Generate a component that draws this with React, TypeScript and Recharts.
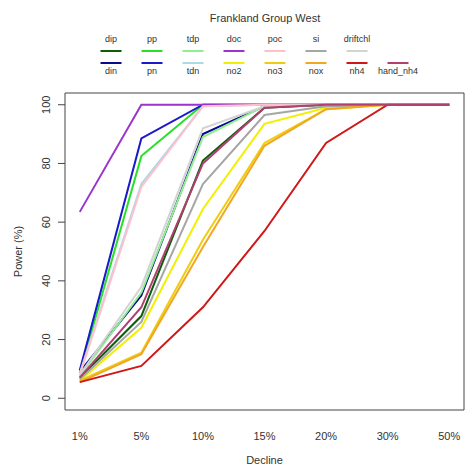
import React from 'react';
import {
  LineChart,
  Line,
  XAxis,
  YAxis,
  ReferenceArea,
} from 'recharts';

// decline levels along the x axis
const declines = ['1%', '5%', '10%', '15%', '20%', '30%', '50%'];
const powerTicks = [0, 20, 40, 60, 80, 100];

// power (%) for each variable at each decline level
const dip = [7, 28, 81, 99, 100, 100, 100];
const din = [9, 35, 90, 99.5, 100, 100, 100];
const pp = [8.5, 82.5, 100, 100, 100, 100, 100];
const pn = [9.5, 88.5, 100, 100, 100, 100, 100];
const tdp = [7.5, 36, 89, 99.5, 100, 100, 100];
const tdn = [8.5, 73, 99.5, 100, 100, 100, 100];
const doc = [63.5, 100, 100, 100, 100, 100, 100];
const no2 = [6, 24, 64.5, 93.5, 99, 100, 100];
const poc = [8, 72, 99.5, 100, 100, 100, 100];
const no3 = [6, 15.5, 54, 87, 98.5, 100, 100];
const si = [6.5, 26, 73, 96.5, 99.5, 100, 100];
const nox = [5.5, 15, 51.5, 86, 98.5, 100, 100];
const driftchl = [8, 38, 92, 99.5, 100, 100, 100];
const nh4 = [5.5, 11, 31, 57, 87, 100, 100];
const hand_nh4 = [7, 31, 80, 99, 100, 100, 100];

const series = [
  { key: 'dip', values: dip, color: '#0b5e0b' },
  { key: 'din', values: din, color: '#0a0a8a' },
  { key: 'pp', values: pp, color: '#28e028' },
  { key: 'pn', values: pn, color: '#1a1ac8' },
  { key: 'tdp', values: tdp, color: '#90ee90' },
  { key: 'tdn', values: tdn, color: '#add8e6' },
  { key: 'doc', values: doc, color: '#9b35cc' },
  { key: 'no2', values: no2, color: '#f2f000' },
  { key: 'poc', values: poc, color: '#ffc0cb' },
  { key: 'no3', values: no3, color: '#f0cc10' },
  { key: 'si', values: si, color: '#a6a6a6' },
  { key: 'nox', values: nox, color: '#f0a820' },
  { key: 'driftchl', values: driftchl, color: '#d3d3d3' },
  { key: 'nh4', values: nh4, color: '#d01818' },
  { key: 'hand_nh4', values: hand_nh4, color: '#b04070' },
];

// legend layout: top row labels sit above their line, bottom row below
const legendTop = ['dip', 'pp', 'tdp', 'doc', 'poc', 'si', 'driftchl'];
const legendBottom = ['din', 'pn', 'tdn', 'no2', 'no3', 'nox', 'nh4', 'hand_nh4'];

const data = declines.map((label, i) => {
  const row: { [k: string]: number | string } = { x: i + 1, label };
  series.forEach((s) => {
    row[s.key] = s.values[i];
  });
  return row;
});

const colorOf = (key: string) => series.find((s) => s.key === key)?.color ?? '#000';

const FONT = '"Liberation Sans", Arial, sans-serif';
const TEXT = '#333';

const YTick = (props: any) => {
  const { x, y, payload } = props;
  const cx = x - 6;
  return (
    <text
      x={cx}
      y={y}
      transform={`rotate(-90, ${cx}, ${y})`}
      textAnchor="middle"
      fontSize={11}
      fill={TEXT}
      fontFamily={FONT}
    >
      {payload.value}
    </text>
  );
};

const LegendItem = ({ name, col, top }: { name: string; col: number; top: boolean }) => {
  const cx = 111 + col * 41;
  const lineY = top ? 51 : 63;
  const textY = top ? 42 : 74;
  return (
    <g>
      <line x1={cx - 10.5} x2={cx + 10.5} y1={lineY} y2={lineY} stroke={colorOf(name)} strokeWidth={2} />
      <text x={cx} y={textY} textAnchor="middle" fontSize={9} fill={TEXT} fontFamily={FONT}>
        {name}
      </text>
    </g>
  );
};

const LegendBlock = () => (
  <svg width={465} height={85} style={{ position: 'absolute', left: 0, top: 0 }}>
    <text x={265} y={22} textAnchor="middle" fontSize={11} fill={TEXT} fontFamily={FONT}>
      Frankland Group West
    </text>
    {legendTop.map((name, i) => (
      <LegendItem key={name} name={name} col={i} top />
    ))}
    {legendBottom.map((name, i) => (
      <LegendItem key={name} name={name} col={i} top={false} />
    ))}
  </svg>
);

export default function App() {
  return (
    <div style={{ position: 'absolute', left: 0, top: 0, width: 465, height: 469, background: '#fff' }}>
      <LineChart
        width={465}
        height={469}
        data={data}
        margin={{ top: 93, right: 1, left: 0, bottom: 0 }}
      >
        <XAxis
          dataKey="x"
          type="number"
          domain={[0.76, 7.24]}
          ticks={[1, 2, 3, 4, 5, 6, 7]}
          tickFormatter={(v: number) => declines[v - 1]}
          axisLine={false}
          tickLine={false}
          tickMargin={16}
          height={59}
          tick={{ fontSize: 11, fill: TEXT, fontFamily: FONT }}
          label={{ value: 'Decline', position: 'insideBottom', offset: 5, fontSize: 11, fill: TEXT, fontFamily: FONT }}
        />
        <YAxis
          type="number"
          domain={[-4, 104]}
          ticks={powerTicks}
          width={65}
          axisLine={false}
          tickSize={7}
          tickLine={{ stroke: '#444' }}
          tick={<YTick />}
          label={{
            value: 'Power (%)',
            angle: -90,
            position: 'insideLeft',
            offset: 18,
            fontSize: 11,
            fill: TEXT,
            fontFamily: FONT,
            style: { textAnchor: 'middle' },
          }}
        />
        <ReferenceArea x1={0.76} x2={7.24} y1={-4} y2={104} fill="none" stroke="#444" strokeWidth={1} />
        {series.map((s) => (
          <Line
            key={s.key}
            dataKey={s.key}
            stroke={s.color}
            strokeWidth={2}
            dot={false}
            isAnimationActive={false}
          />
        ))}
      </LineChart>
      <LegendBlock />
    </div>
  );
}
